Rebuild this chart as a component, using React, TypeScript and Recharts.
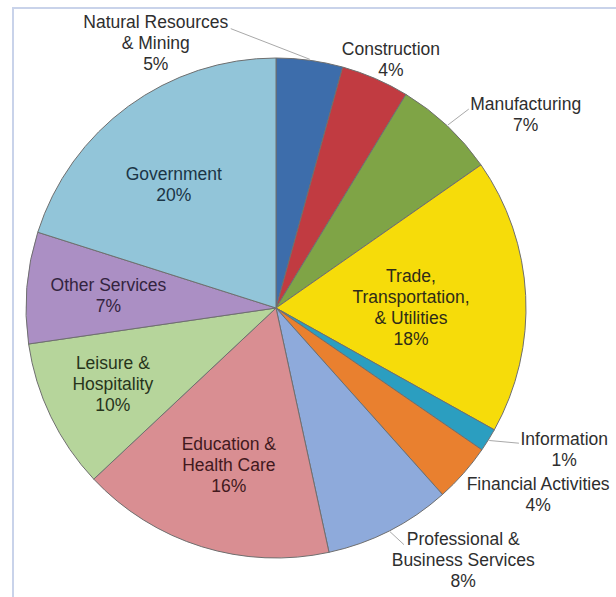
import * as React from 'react';
import { PieChart, Pie, Cell } from 'recharts';

// share of employment by sector (clockwise from 12 o'clock)
const sectors = [
    'Natural Resources & Mining',
    'Construction',
    'Manufacturing',
    'Trade, Transportation, & Utilities',
    'Information',
    'Financial Activities',
    'Professional & Business Services',
    'Education & Health Care',
    'Leisure & Hospitality',
    'Other Services',
    'Government'
];
const shares = [4.3, 4.4, 6.6, 17.8, 1.5, 3.8, 8.2, 16.4, 9.7, 7.2, 20.1];
const percentLabels = ['5%', '4%', '7%', '18%', '1%', '4%', '8%', '16%', '10%', '7%', '20%'];
const labelLines = [
    ['Natural Resources', '& Mining'],
    ['Construction'],
    ['Manufacturing'],
    ['Trade,', 'Transportation,', '& Utilities'],
    ['Information'],
    ['Financial Activities'],
    ['Professional &', 'Business Services'],
    ['Education &', 'Health Care'],
    ['Leisure &', 'Hospitality'],
    ['Other Services'],
    ['Government']
];

const data = sectors.map((name, i) => ({ name, value: shares[i] }));

const COLORS = [
    '#3d6dab', '#c13b41', '#7fa446', '#f6dc0a', '#2b9ec0', '#e9802f',
    '#8eaadb', '#d98e92', '#b6d59b', '#ab8fc4', '#92c5d9'
];
const TEXT_COLORS = [
    '#2e2e2e', '#2e2e2e', '#2e2e2e', '#2f2c18', '#2e2e2e', '#2e2e2e',
    '#2e2e2e', '#42191d', '#27341b', '#33243f', '#1b3546'
];

// where each label block sits: radius and angle (degrees clockwise from top)
const LABEL_SPOT = [
    { r: 291, deg: 335.6, leader: { r: 283, deg: 350.8 } },
    { r: 274, deg: 24.8 },
    { r: 316, deg: 52.2, leader: { r: 277, deg: 44.1 } },
    { r: 135, deg: 89.6 },
    { r: 321, deg: 116.1, leader: { r: 278, deg: 119.1 } },
    { r: 322, deg: 125.5 },
    { r: 314, deg: 143.4, leader: { r: 269, deg: 151.6 } },
    { r: 164, deg: 196.7 },
    { r: 180, deg: 245 },
    { r: 168, deg: 274.1 },
    { r: 160, deg: 320.3 }
];

const RAD = Math.PI / 180;
const LINE_H = 21;

const fromTop = (cx: number, cy: number, r: number, deg: number) => ({
    x: cx + r * Math.sin(deg * RAD),
    y: cy - r * Math.cos(deg * RAD)
});

const renderLabel = (props: any) => {
    const { cx, cy, midAngle, outerRadius, index } = props;
    const spot = LABEL_SPOT[index];
    const c = fromTop(cx, cy, spot.r, spot.deg);
    const lines = [...labelLines[index], percentLabels[index]];
    const top = c.y - ((lines.length - 1) * LINE_H) / 2;
    let leader = null;
    if (spot.leader) {
        const sx = cx + (outerRadius + 1) * Math.cos(-midAngle * RAD);
        const sy = cy + (outerRadius + 1) * Math.sin(-midAngle * RAD);
        const e = fromTop(cx, cy, spot.leader.r, spot.leader.deg);
        leader = <line x1={sx} y1={sy} x2={e.x} y2={e.y} stroke="#a9a9a9" strokeWidth={1} />;
    }
    return (
        <g key={`label-${index}`}>
            {leader}
            <text
                x={c.x}
                y={top}
                fill={TEXT_COLORS[index]}
                textAnchor="middle"
                fontSize={17.5}
                fontFamily="'Liberation Sans', Arial, sans-serif"
            >
                {lines.map((l, i) => (
                    <tspan key={i} x={c.x} y={top + i * LINE_H} dominantBaseline="central">
                        {l}
                    </tspan>
                ))}
            </text>
        </g>
    );
};

const App = () => {
    return (
        <div
            style={{
                position: 'absolute',
                left: 0,
                top: 0,
                width: 616,
                height: 597,
                background: '#fff',
                overflow: 'hidden'
            }}
        >
            <div
                style={{
                    position: 'absolute',
                    left: 12,
                    top: 7,
                    right: 0,
                    bottom: 0,
                    borderTop: '2px solid #c9d3ea',
                    borderLeft: '2px solid #c9d3ea'
                }}
            />
            <PieChart width={616} height={597} style={{ position: 'absolute', left: 0, top: 0 }}>
                <Pie
                    data={data}
                    dataKey="value"
                    cx={271}
                    cy={303}
                    outerRadius={250}
                    startAngle={90}
                    endAngle={-270}
                    stroke="#6f6f6f"
                    strokeWidth={1}
                    label={renderLabel}
                    labelLine={false}
                    isAnimationActive={false}
                >
                    {data.map((entry, index) => (
                        <Cell key={`cell-${index}`} fill={COLORS[index]} />
                    ))}
                </Pie>
            </PieChart>
        </div>
    );
};

export default App;
